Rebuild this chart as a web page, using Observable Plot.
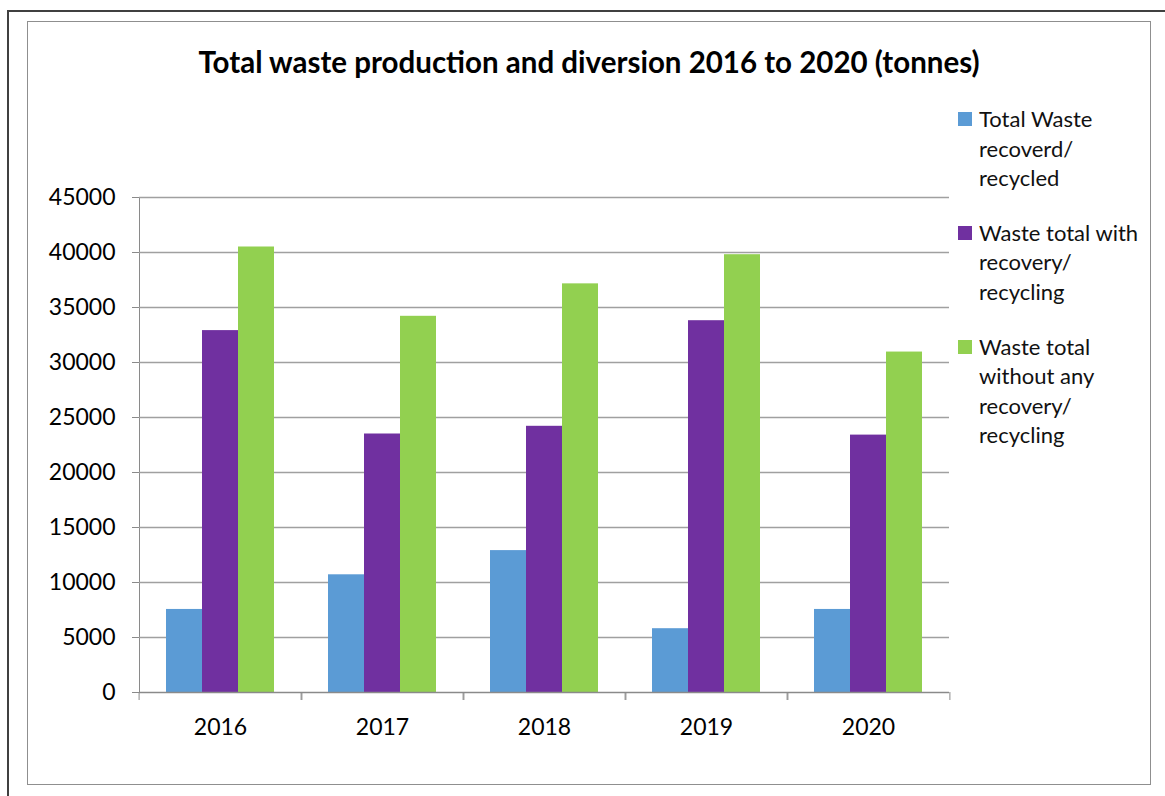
<!DOCTYPE html>
<html>
<head>
<meta charset="utf-8">
<script src="https://cdn.jsdelivr.net/npm/d3@7"></script>
<script src="https://cdn.jsdelivr.net/npm/@observablehq/plot@0.6"></script>
<style>
  html, body { margin: 0; padding: 0; background: #fff; width: 1165px; height: 796px; overflow: hidden; }
  #outer { position: absolute; left: 7px; top: 10px; width: 1200px; height: 820px; border-left: 2px solid #404040; border-top: 2px solid #404040; }
  #inner { position: absolute; left: 27px; top: 21px; width: 1122px; height: 762px; border: 1px solid #8f8f8f; }
  #title { position: absolute; left: 27px; width: 1124px; top: 44px; text-align: center; font-family: Lato, "Open Sans", sans-serif; font-weight: bold; font-size: 29.5px; line-height: 1.2; color: #000; white-space: nowrap; }
  #chart { position: absolute; left: 0; top: 0; }
  #chart svg text { fill: #000; }
  #legend { position: absolute; left: 958px; top: 104px; font-family: Lato, "Open Sans", sans-serif; font-size: 22px; color: #111; }
  .item { display: flex; align-items: flex-start; margin-bottom: 25px; }
  .sw { width: 14px; height: 14px; margin-top: 8px; margin-right: 7px; flex: none; }
  .lbl { line-height: 29.6px; }
</style>
</head>
<body>
<div id="outer"></div>
<div id="inner"></div>
<div id="title">Total waste production and diversion 2016 to 2020 (tonnes)</div>
<div id="chart"></div>
<div id="legend"></div>
<script>
const years = ["2016", "2017", "2018", "2019", "2020"];
const seriesNames = [
  "Total Waste recoverd/ recycled",
  "Waste total with recovery/ recycling",
  "Waste total without any recovery/ recycling"
];
const legendLines = [
  ["Total Waste", "recoverd/", "recycled"],
  ["Waste total with", "recovery/", "recycling"],
  ["Waste total", "without any", "recovery/", "recycling"]
];
const recovered = [7550, 10700, 12900, 5800, 7550];
const withRecovery = [32900, 23500, 24200, 33800, 23400];
const withoutRecovery = [40500, 34200, 37150, 39800, 30950];
const colors = ["#5B9BD5", "#7030A0", "#92D050"];
const yTicks = [0, 5000, 10000, 15000, 20000, 25000, 30000, 35000, 40000, 45000];

const seriesValues = [recovered, withRecovery, withoutRecovery];
const rows = years.flatMap((yr, i) =>
  seriesNames.map((s, k) => ({ year: yr, series: s, value: seriesValues[k][i] }))
);

const W = 960, H = 750, ML = 137, MR = 9;
const step = (W - ML - MR) / years.length;

const chart = Plot.plot({
  width: W,
  height: H,
  marginLeft: ML,
  marginRight: MR,
  marginTop: 197,
  marginBottom: 58,
  style: { fontFamily: "Lato, 'Open Sans', sans-serif", fontSize: "23px", color: "#8a8a8a", background: "transparent", overflow: "visible" },
  fx: { domain: years, padding: 0, label: null },
  x: { domain: seriesNames, paddingInner: 0, paddingOuter: 0.745, axis: null },
  y: { domain: [0, 45000], ticks: yTicks, tickSize: 7, tickPadding: 17, line: true, label: null, tickFormat: d => String(d) },
  color: { domain: seriesNames, range: colors },
  marks: [
    Plot.ruleY(yTicks.slice(1), { stroke: "#a0a0a0", strokeWidth: 1.5 }),
    Plot.barY(rows, { fx: "year", x: "series", y: "value", fill: "series" }),
    Plot.ruleY([0], { stroke: "#8a8a8a", strokeWidth: 1.5 }),
    Plot.axisFx({ anchor: "bottom", tickSize: 0, tickPadding: 26, label: null }),
    Plot.axisFx({ anchor: "bottom", tickSize: 8, tickFormat: () => "", dx: -step / 2, label: null }),
    Plot.axisFx({ anchor: "bottom", tickSize: 8, tickFormat: () => "", dx: step / 2, label: null })
  ]
});
document.getElementById("chart").appendChild(chart);

const legend = document.getElementById("legend");
legendLines.forEach((lines, k) => {
  const item = document.createElement("div");
  item.className = "item";
  const sw = document.createElement("div");
  sw.className = "sw";
  sw.style.background = colors[k];
  const lbl = document.createElement("div");
  lbl.className = "lbl";
  lbl.innerHTML = lines.join("<br>");
  item.appendChild(sw);
  item.appendChild(lbl);
  legend.appendChild(item);
});
</script>
</body>
</html>
